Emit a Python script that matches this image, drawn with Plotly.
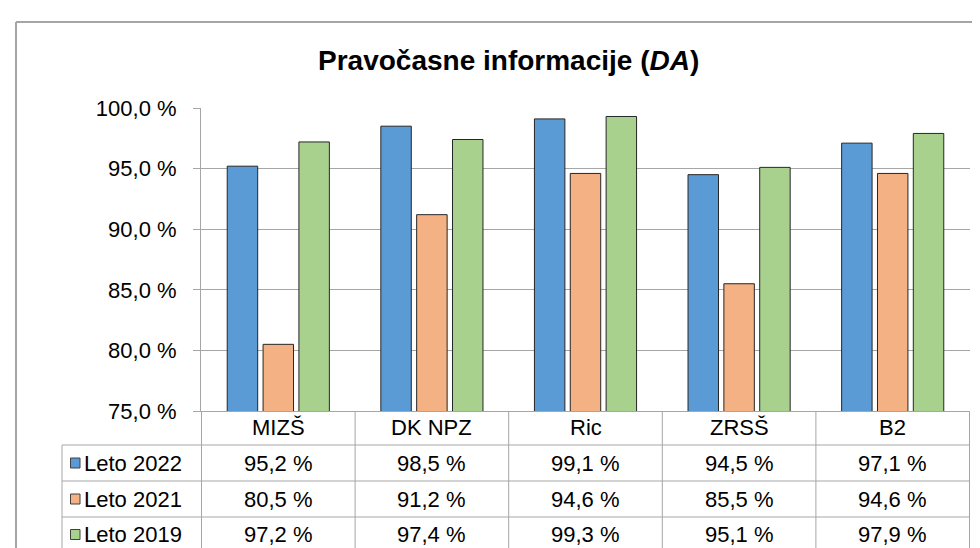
import plotly.graph_objects as go

# ---------------- data ----------------
categories = ["MIZŠ", "DK NPZ", "Ric", "ZRSŠ", "B2"]
series_names = ["Leto 2022", "Leto 2021", "Leto 2019"]
leto_2022 = [95.2, 98.5, 99.1, 94.5, 97.1]
leto_2021 = [80.5, 91.2, 94.6, 85.5, 94.6]
leto_2019 = [97.2, 97.4, 99.3, 95.1, 97.9]
y_ticks = [75, 80, 85, 90, 95, 100]
y_tick_labels = ["75,0 %", "80,0 %", "85,0 %", "90,0 %", "95,0 %", "100,0 %"]
title_text = "<b>Pravočasne informacije (<i>DA</i>)</b>"

# ---------------- style ----------------
colors = ["#5B9BD5", "#F4B183", "#A9D18E"]
FONT = "Liberation Sans, Arial, sans-serif"
GRID = "#A6A6A6"
TXT = 22
W, H = 980, 548
L, R, T, B = 193, 962, 100, 403  # plot area in pixels
PW, PH = R - L, B - T


def px(xpix):
    return (xpix - L) / PW


def py(ypix):
    return (B - ypix) / PH


all_series = [leto_2022, leto_2021, leto_2019]

fig = go.Figure()
for name, vals, col in zip(series_names, all_series, colors):
    fig.add_trace(go.Bar(
        x=categories, y=vals, name=name,
        marker=dict(color=col, line=dict(color="#262626", width=1)),
        showlegend=False,
    ))

shapes = []
annotations = []

# outer chart border (cropped on right and bottom)
shapes.append(dict(type="line", xref="paper", yref="paper",
                   x0=px(8), x1=px(1000), y0=py(14), y1=py(14),
                   line=dict(color=GRID, width=2)))
shapes.append(dict(type="line", xref="paper", yref="paper",
                   x0=px(8), x1=px(8), y0=py(14), y1=py(600),
                   line=dict(color=GRID, width=2)))

# data table
row_lines = [437, 473, 509, 544]
row_centers = [455, 491, 526.5]
legend_left = 54
for yl in row_lines:
    shapes.append(dict(type="line", xref="paper", yref="paper",
                       x0=px(legend_left), x1=1, y0=py(yl), y1=py(yl),
                       line=dict(color=GRID, width=1)))
shapes.append(dict(type="line", xref="paper", yref="paper",
                   x0=px(legend_left), x1=px(legend_left),
                   y0=py(row_lines[0]), y1=py(row_lines[-1]),
                   line=dict(color=GRID, width=1)))
for i in range(len(categories) + 1):
    shapes.append(dict(type="line", xref="x", yref="paper",
                       x0=i - 0.5, x1=i - 0.5, y0=0, y1=py(row_lines[-1]),
                       line=dict(color=GRID, width=1)))

# category headers
for c in categories:
    annotations.append(dict(x=c, xref="x", y=py(420), yref="paper",
                            text=c, showarrow=False,
                            font=dict(family=FONT, size=TXT, color="#000000"),
                            xanchor="center", yanchor="middle"))

# values + legend column
for r, (name, vals, col) in enumerate(zip(series_names, all_series, colors)):
    yc = py(row_centers[r])
    for c, v in zip(categories, vals):
        annotations.append(dict(x=c, xref="x", y=yc, yref="paper",
                                text=f"{v:.1f} %".replace(".", ","),
                                showarrow=False,
                                font=dict(family=FONT, size=TXT, color="#000000"),
                                xanchor="center", yanchor="middle"))
    half = 5 / PH
    shapes.append(dict(type="rect", xref="paper", yref="paper",
                       x0=px(62.5), x1=px(72), y0=yc - half, y1=yc + half,
                       fillcolor=col, line=dict(color="#404040", width=1)))
    annotations.append(dict(x=px(74), xref="paper", y=yc, yref="paper",
                            text=name, showarrow=False,
                            font=dict(family=FONT, size=TXT, color="#000000"),
                            xanchor="left", yanchor="middle"))

# title
annotations.append(dict(x=px(500), xref="paper", y=py(52), yref="paper",
                        text=title_text, showarrow=False,
                        font=dict(family=FONT, size=28, color="#000000"),
                        xanchor="center", yanchor="middle"))

fig.update_layout(
    width=W, height=H,
    margin=dict(l=L, r=W - R, t=T, b=H - B, pad=0),
    paper_bgcolor="white", plot_bgcolor="white",
    barmode="group", bargap=0.30, bargroupgap=0.15,
    font=dict(family=FONT, color="#000000"),
    shapes=shapes, annotations=annotations,
    xaxis=dict(showticklabels=False, ticks="", showgrid=False,
               showline=True, linecolor=GRID, linewidth=1,
               zeroline=False),
    yaxis=dict(range=[75, 100], tickvals=y_ticks, ticktext=y_tick_labels,
               showgrid=True, gridcolor=GRID, gridwidth=1,
               showline=True, linecolor=GRID, linewidth=1,
               ticks="outside", ticklen=7, tickcolor=GRID,
               tickfont=dict(family=FONT, size=TXT, color="#000000"),
               ticklabelstandoff=12, zeroline=False),
)

fig.write_html("out.html")
